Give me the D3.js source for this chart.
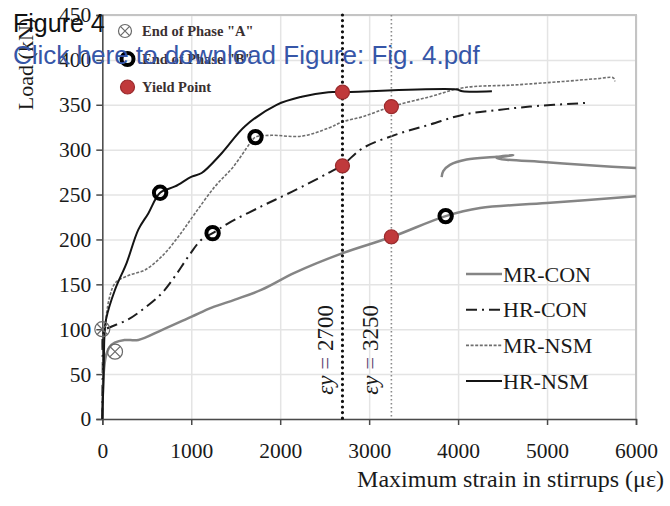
<!DOCTYPE html>
<html>
<head>
<meta charset="utf-8">
<script src="https://cdn.jsdelivr.net/npm/d3@7"></script>
<style>
  body { margin: 0; background: #fff; }
  #chart { width: 670px; height: 506px; }
</style>
</head>
<body>
<div id="chart"></div>
<script>
// ticks
const xTicks = [0, 1000, 2000, 3000, 4000, 5000, 6000]
const yTicks = [0, 50, 100, 150, 200, 250, 300, 350, 400, 450]

// curves: [strain (με), load (kN)]
const mrCon = [[0, 0], [15, 50], [40, 70], [80, 80], [140, 85], [250, 88], [405, 88], [668, 99], [1005, 114], [1230, 124], [1492, 133], [1792, 144], [2166, 163], [2710, 185], [3260, 203], [3860, 226], [4246, 235], [4996, 240.5], [6000, 248]]
const mrConBranch = [[3815, 269.5], [3833, 276], [3908, 283], [4096, 289], [4433, 292], [4620, 294], [4433, 290.6], [4996, 286], [5558, 282], [6000, 279.5]]
const hrCon = [[0, 0], [5, 60], [10, 95], [40, 100], [106, 103], [292, 111], [480, 124], [668, 140], [817, 159], [967, 181], [1117, 200], [1240, 207], [1416, 218], [1792, 237], [2129, 253], [2541, 274], [2700, 283], [2934, 302], [3309, 317], [3684, 328], [4058, 339], [4433, 344], [4808, 348], [5426, 352]]
const mrNsm = [[0, 0], [10, 60], [30, 100], [80, 135], [150, 152], [300, 160], [480, 166], [668, 181], [854, 203], [1042, 229], [1267, 259], [1473, 281], [1660, 307], [1722, 314], [1900, 316], [2241, 315], [2541, 324], [2700, 331], [2934, 337], [3250, 348], [3684, 359], [4058, 369], [4620, 372], [5182, 376], [5558, 379], [5745, 380], [5763, 376]]
const hrNsm = [[0, 0], [15, 50], [25, 95], [42, 111], [143, 144], [274, 174], [405, 211], [517, 229], [650, 252], [817, 259], [1005, 270], [1117, 274], [1342, 296], [1604, 326], [1960, 350], [2241, 359], [2541, 364], [2700, 364], [3984, 367], [4050, 365], [4380, 365]]

// markers
const phaseA = [[0, 100], [143, 75]]
const phaseB = [[650, 252], [1240, 207], [1722, 314], [3860, 226]]
const yieldPts = [[2700, 364], [3250, 348], [2700, 282], [3250, 203]]
const yieldStrains = [2700, 3250]

const legendNames = ["MR-CON", "HR-CON", "MR-NSM", "HR-NSM"]
const markerNames = ['End of Phase "A"', 'End of Phase "B"', "Yield Point"]

const margin = { top: 15, right: 34, bottom: 87, left: 102.3 },
    width = 670 - margin.left - margin.right,
    height = 506 - margin.top - margin.bottom;

const serif = "'Liberation Serif', 'Times New Roman', serif"
const sans = "'Liberation Sans', Arial, sans-serif"

const root = d3.select("#chart")
    .append("svg")
    .attr("width", 670)
    .attr("height", 506)

const svg = root.append("g")
    .attr("transform", `translate(${margin.left},${margin.top})`);

let x = d3.scaleLinear().domain([0, 6000]).range([0, width])
let y = d3.scaleLinear().domain([0, 450]).range([height, 0])

// grid
svg.append("g")
    .attr("transform", "translate(0," + height + ")")
    .call(d3.axisBottom(x).tickValues(xTicks).tickSize(-height).tickFormat(""))
    .call(g => g.select(".domain").remove())
    .selectAll("line").attr("stroke", "#e4e4e4").attr("stroke-width", 1.5)
svg.append("g")
    .call(d3.axisLeft(y).tickValues(yTicks).tickSize(-width).tickFormat(""))
    .call(g => g.select(".domain").remove())
    .selectAll("line").attr("stroke", "#e4e4e4").attr("stroke-width", 1.5)

// frame top / right
svg.append("path")
    .attr("d", d3.line()([[0, 0], [width, 0], [width, height]]))
    .attr("fill", "none")
    .attr("stroke", "#c4c4c4")
    .attr("stroke-width", 2)

// axes
let xAxis = svg.append("g")
    .attr("transform", "translate(0," + height + ")")
    .call(d3.axisBottom(x).tickValues(xTicks).tickFormat(d3.format("d")).tickSize(6).tickPadding(18))
let yAxis = svg.append("g")
    .call(d3.axisLeft(y).tickValues(yTicks).tickFormat(d3.format("d")).tickSize(6).tickPadding(5))

;[xAxis, yAxis].forEach(function (a) {
    a.select(".domain").attr("stroke", "#4a4a4a").attr("stroke-width", 1.5)
    a.selectAll("line").attr("stroke", "#4a4a4a").attr("stroke-width", 1.5)
    a.selectAll("text")
        .attr("font-size", "21.5px")
        .attr("font-family", serif)
        .attr("fill", "#1a1a1a")
})

const line = d3.line()
    .x(function (d) { return x(d[0]) })
    .y(function (d) { return y(d[1]) })
    .curve(d3.curveCatmullRom.alpha(0.5))

const styles = [
    { data: mrCon, stroke: "#858585", width: 2.5, dash: null },
    { data: hrCon, stroke: "#1e1e1e", width: 2, dash: "11,5,2,5" },
    { data: mrNsm, stroke: "#6e6e6e", width: 1.6, dash: "3,1.6" },
    { data: hrNsm, stroke: "#141414", width: 2, dash: null }
]

styles.forEach(function (s) {
    svg.append("path")
        .datum(s.data)
        .attr("fill", "none")
        .attr("stroke", s.stroke)
        .attr("stroke-width", s.width)
        .attr("stroke-dasharray", s.dash)
        .attr("stroke-linejoin", "round")
        .attr("d", line)
})

svg.append("path")
    .datum(mrConBranch)
    .attr("fill", "none")
    .attr("stroke", "#858585")
    .attr("stroke-width", 2.5)
    .attr("stroke-linejoin", "round")
    .attr("d", line)

// yield strain lines
svg.append("line")
    .attr("x1", x(yieldStrains[0])).attr("x2", x(yieldStrains[0]))
    .attr("y1", 0).attr("y2", height)
    .attr("stroke", "#111")
    .attr("stroke-width", 3.2)
    .attr("stroke-linecap", "round")
    .attr("stroke-dasharray", "0,5.6")
svg.append("line")
    .attr("x1", x(yieldStrains[1])).attr("x2", x(yieldStrains[1]))
    .attr("y1", 0).attr("y2", height)
    .attr("stroke", "#8a8a8a")
    .attr("stroke-width", 1.6)
    .attr("stroke-dasharray", "1.6,2.4")

yieldStrains.forEach(function (v, i) {
    let t = svg.append("text")
        .attr("transform", `translate(${x(v) - 9 - (i == 0 ? 0 : 4)},${y(77)}) rotate(-90)`)
        .attr("text-anchor", "middle")
        .attr("font-family", serif)
        .attr("font-size", "23px")
        .attr("fill", "#1a1a1a")
    t.append("tspan").attr("font-style", "italic").text("εy")
    t.append("tspan").attr("fill", "#6a4a78").text(" = ")
    t.append("tspan").text(v)
})

// markers
function phaseAMarker(g, cx, cy, r) {
    let k = r * 0.7
    g.append("circle").attr("cx", cx).attr("cy", cy).attr("r", r)
        .attr("fill", "none").attr("stroke", "#6a6a6a").attr("stroke-width", 1.2)
    g.append("path")
        .attr("d", `M${cx - k},${cy - k}L${cx + k},${cy + k}M${cx - k},${cy + k}L${cx + k},${cy - k}`)
        .attr("stroke", "#6a6a6a").attr("stroke-width", 1.2)
}
function phaseBMarker(g, cx, cy, r) {
    g.append("circle").attr("cx", cx).attr("cy", cy).attr("r", r)
        .attr("fill", "none").attr("stroke", "#000").attr("stroke-width", 4)
}
function yieldMarker(g, cx, cy, r) {
    g.append("circle").attr("cx", cx).attr("cy", cy).attr("r", r)
        .attr("fill", "#c0393b").attr("stroke", "#9a2b2d").attr("stroke-width", 1.2)
}

phaseA.forEach(function (d) { phaseAMarker(svg, x(d[0]), y(d[1]), 7.5) })
phaseB.forEach(function (d) { phaseBMarker(svg, x(d[0]), y(d[1]), 6.2) })
yieldPts.forEach(function (d) { yieldMarker(svg, x(d[0]), y(d[1]), 7) })

// marker legend (top left)
const mk = [phaseAMarker, phaseBMarker, yieldMarker]
const mkR = [6.5, 6, 7]
markerNames.forEach(function (n, i) {
    let cy = 31 + i * 28
    mk[i](root, i == 0 ? 125 : 127.5, cy, mkR[i])
    root.append("text")
        .attr("x", 142).attr("y", cy + 5)
        .attr("font-family", serif)
        .attr("font-size", "14.5px")
        .attr("font-weight", "bold")
        .attr("fill", "#3a3030")
        .text(n)
})

// line legend (bottom right)
styles.forEach(function (s, i) {
    let ly = 274 + i * 35.7
    root.append("line")
        .attr("x1", 466).attr("x2", 502)
        .attr("y1", ly).attr("y2", ly)
        .attr("stroke", s.stroke)
        .attr("stroke-width", s.width)
        .attr("stroke-dasharray", s.dash)
    root.append("text")
        .attr("x", 503).attr("y", ly + 7.5)
        .attr("font-family", serif)
        .attr("font-size", "22px")
        .attr("fill", "#1a1a1a")
        .text(legendNames[i])
})

// axis titles
root.append("text")
    .attr("x", 664).attr("y", 487)
    .attr("text-anchor", "end")
    .attr("font-family", serif)
    .attr("font-size", "24px")
    .attr("fill", "#1a1a1a")
    .text("Maximum strain in stirrups (με)")
root.append("text")
    .attr("transform", "translate(33,64) rotate(-90)")
    .attr("text-anchor", "middle")
    .attr("font-family", serif)
    .attr("font-size", "22px")
    .attr("fill", "#1a1a1a")
    .text("Load (kN)")

// page overlay text
root.append("text")
    .attr("x", 13).attr("y", 32)
    .attr("font-family", sans)
    .attr("font-size", "25px")
    .attr("fill", "#111")
    .text("Figure 4")
root.append("text")
    .attr("x", 13).attr("y", 64)
    .attr("font-family", sans)
    .attr("font-size", "26px")
    .attr("fill", "#3656a8")
    .text("Click here to download Figure: Fig. 4.pdf")
</script>
</body>
</html>
